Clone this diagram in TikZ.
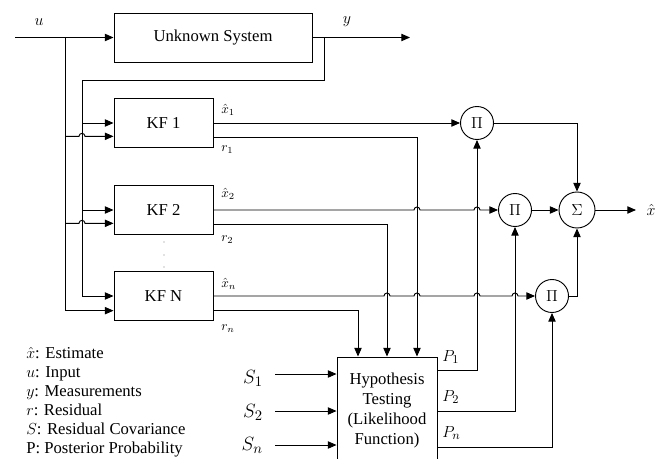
\documentclass[tikz,border=0pt]{standalone}
\usepackage{fontspec}
\setmainfont{Liberation Serif}
\usetikzlibrary{arrows.meta}

\tikzset{
  blk/.style={draw, line width=0.7pt, inner sep=0pt, minimum width=74.25pt, minimum height=36.5pt},
  mult/.style={draw, circle, line width=0.7pt, inner sep=0pt, minimum size=24.75pt},
  lbl/.style={inner sep=0pt, anchor=west, font=\rmfamily\fontsize{10}{12}\selectfont},
  key/.style={inner sep=0pt, anchor=base west, font=\rmfamily\fontsize{12.5}{14}\selectfont},
  sig/.style={->, line width=0.7pt},
  hop/.style={insert path={arc[start angle=180, end angle=0, radius=2.25pt]}},
}

\begin{document}
\begin{tikzpicture}[x=0.75pt, y=-0.75pt, >={Triangle[length=6.5pt,width=5.5pt]}, font=\rmfamily\fontsize{12.5}{15}\selectfont]
\useasboundingbox (0,0) rectangle (670,459);

% blocks
\node[blk, minimum width=148.5pt, minimum height=36.75pt] (sys) at (213,37.5) {Unknown System};
\node[blk] (kf1) at (163.5,123) {KF 1};
\node[blk] (kf2) at (163.5,210) {KF 2};
\node[blk] (kfn) at (163.5,296) {KF N};
\node[blk, minimum width=75pt, minimum height=79.5pt, align=center] (hyp) at (387,410) {Hypothesis\\Testing\\(Likelihood\\Function)};

% products and sum
\node[mult] (p1) at (477,123) {$\Pi$};
\node[mult] (p2) at (515,210) {$\Pi$};
\node[mult] (p3) at (552,296) {$\Pi$};
\node[mult, minimum size=27pt] (sum) at (577,210) {$\Sigma$};

% dots between the filters
\fill[gray] (164,242) circle[radius=0.5pt] (164,255) circle[radius=0.5pt] (164,267) circle[radius=0.5pt];

% signal labels
\node (lu) at (39,22) {$u$};
\node (ly) at (347,22) {$y$};
\node (lx) at (651,210) {$\hat{x}$};
\node[lbl] (lx1) at (221,110) {$\hat{x}_1$};
\node[lbl] (lr1) at (221,150) {$r_1$};
\node[lbl] (lx2) at (221,194) {$\hat{x}_2$};
\node[lbl] (lr2) at (221,240) {$r_2$};
\node[lbl] (lxn) at (221,284) {$\hat{x}_n$};
\node[lbl] (lrn) at (221,329) {$r_n$};
\node[lbl, font=\fontsize{13}{15}\selectfont] (lp1) at (442,357) {$P_1$};
\node[lbl, font=\fontsize{13}{15}\selectfont] (lp2) at (442,397) {$P_2$};
\node[lbl, font=\fontsize{13}{15}\selectfont] (lpn) at (442,433) {$P_n$};
\node[anchor=east, inner sep=0pt, font=\fontsize{15}{18}\selectfont] (s1) at (263,378) {$S_1$};
\node[anchor=east, inner sep=0pt, font=\fontsize{15}{18}\selectfont] (s2) at (263,412) {$S_2$};
\node[anchor=east, inner sep=0pt, font=\fontsize{15}{18}\selectfont] (sn) at (263,445) {$S_n$};

% legend
\node[key] (k1) at (26,358) {$\hat{x}$: Estimate};
\node[key] (k2) at (26,377) {$u$: Input};
\node[key] (k3) at (26,396) {$y$: Measurements};
\node[key] (k4) at (26,415) {$r$: Residual};
\node[key] (k5) at (26,434) {$S$: Residual Covariance};
\node[key] (k6) at (26,453) {P: Posterior Probability};

% ports
\coordinate (uin) at (15,37.5);
\coordinate (yout) at (410,37.5);
\coordinate (utap) at (65,37.5);
\coordinate (ytap) at (324,37.5);
\coordinate (ybus) at (82,80);
\coordinate (xout) at (636,210);
\coordinate (kf1lo) at ([yshift=-10pt]kf1.west);
\coordinate (kf2lo) at ([yshift=-10pt]kf2.west);
\coordinate (kfnlo) at ([yshift=-11pt]kfn.west);
\coordinate (kf1ro) at ([yshift=-10.5pt]kf1.east);
\coordinate (kf2ro) at ([yshift=-11pt]kf2.east);
\coordinate (kfnro) at ([yshift=-11pt]kfn.east);
\coordinate (ri1) at ([xshift=22.5pt]hyp.north);
\coordinate (ri2) at (hyp.north);
\coordinate (rin) at ([xshift=-21.75pt]hyp.north);
\coordinate (hp1) at ([yshift=30pt]hyp.east);
\coordinate (hp2) at ([yshift=-0.75pt]hyp.east);
\coordinate (hpn) at ([yshift=-27.75pt]hyp.east);
\coordinate (s1in) at (275,374);
\coordinate (s2in) at (275,411);
\coordinate (snin) at (275,445);

% input and measurement buses
\draw[sig] (uin) -- (sys.west);
\draw[sig] (sys.east) -- (yout);
\draw[sig] (ytap) |- (ybus) |- (kfn.west);
\draw[sig] (ybus |- kf1.west) -- (kf1.west);
\draw[sig] (ybus |- kf2.west) -- (kf2.west);
\draw[sig] (utap) |- (kfnlo);
\draw[sig] (utap |- kf1lo) -- ([xshift=-2.25pt]ybus |- kf1lo) [hop] -- (kf1lo);
\draw[sig] (utap |- kf2lo) -- ([xshift=-2.25pt]ybus |- kf2lo) [hop] -- (kf2lo);

% filter outputs
\draw[sig] (kf1.east) -- (p1.west);
\draw[sig] (kf1ro) -| (ri1);
\draw[sig] (kf2.east) -- ([xshift=-2.25pt]ri1 |- kf2.east) [hop] -- ([xshift=-2.25pt]p1 |- kf2.east) [hop] -- (p2.west);
\draw[sig] (kf2ro) -| (ri2);
\draw[sig] (kfn.east) -- ([xshift=-2.25pt]ri2 |- kfn.east) [hop] -- ([xshift=-2.25pt]ri1 |- kfn.east) [hop]
  -- ([xshift=-2.25pt]p1 |- kfn.east) [hop] -- ([xshift=-2.25pt]p2 |- kfn.east) [hop] -- (p3.west);
\draw[sig] (kfnro) -| (rin);

% covariances in
\draw[sig] (s1in) -- (s1in -| hyp.west);
\draw[sig] (s2in) -- (s2in -| hyp.west);
\draw[sig] (snin) -- (snin -| hyp.west);

% probabilities and fusion
\draw[sig] (hp1) -| (p1.south);
\draw[sig] (hp2) -| (p2.south);
\draw[sig] (hpn) -| (p3.south);
\draw[sig] (p1.east) -| (sum.north);
\draw[sig] (p3.east) -| (sum.south);
\draw[sig] (p2.east) -- (sum.west);
\draw[sig] (sum.east) -- (xout);
\end{tikzpicture}
\end{document}
